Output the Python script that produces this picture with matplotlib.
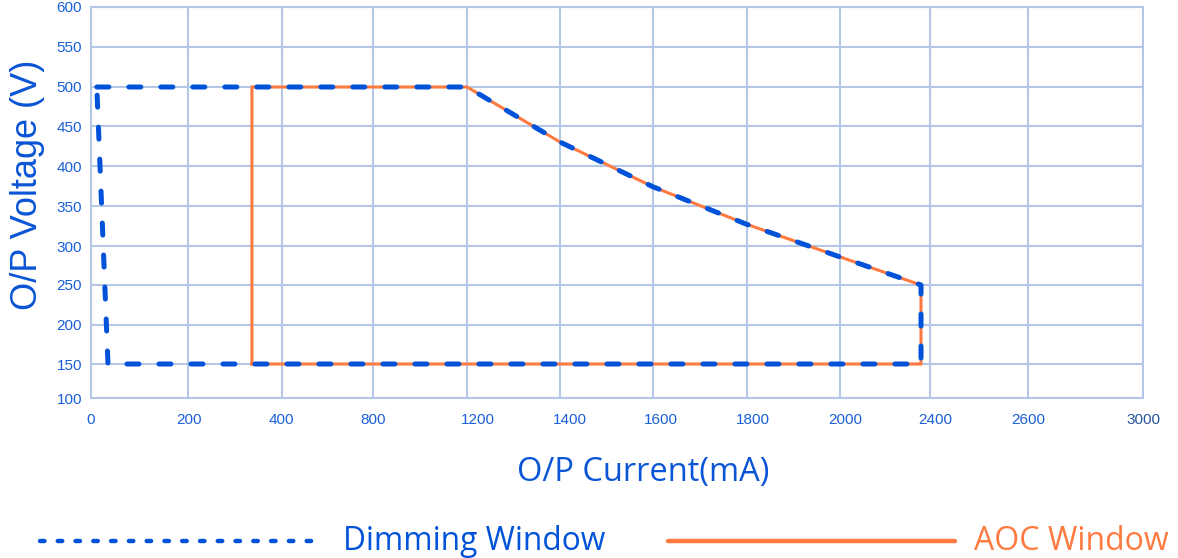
import numpy as np
import matplotlib
matplotlib.use("Agg")
import matplotlib.pyplot as plt
from matplotlib.lines import Line2D
from matplotlib.transforms import ScaledTranslation

# Valores (corrente em mA, tensão em V)
rotulos_x = [0, 200, 400, 800, 1200, 1400, 1600, 1800, 2000, 2400, 2600, 3000]
ticks_y = [100, 150, 200, 250, 300, 350, 400, 450, 500, 550, 600]

dimming_corrente = [12, 1200, 1400, 1600, 1800, 2000, 2360, 2360, 35, 12]
dimming_tensao = [500, 500, 430, 374, 327, 286, 250, 150, 150, 500]

aoc_corrente = [336, 336, 1200, 1400, 1600, 1800, 2000, 2360, 2360, 336]
aoc_tensao = [150, 500, 500, 430, 374, 327, 286, 250, 150, 150]

# Posição das linhas de grade (as escalas originais não são lineares)
pos_x = np.array([91, 188, 282, 373, 467, 560, 653, 747, 840, 930, 1028, 1143], dtype=float)
pos_x = (pos_x - 91) / (1143 - 91)
pos_y = np.array([398, 364, 325, 285, 246, 206, 166, 126, 87, 47, 7], dtype=float)
pos_y = (398 - pos_y) / (398 - 7)
desloc_rotulo = [0, 1, -1, 0, 11, 10, 8, 6, 5, 5, 0, 0]

def ida_x(x):
    return np.interp(x, rotulos_x, pos_x)

def volta_x(p):
    return np.interp(p, pos_x, rotulos_x)

def ida_y(y):
    return np.interp(y, ticks_y, pos_y)

def volta_y(p):
    return np.interp(p, pos_y, ticks_y)

cor_grade = "#b4c7e7"
cor_azul = "#0052d9"
cor_laranja = "#ff7a3f"
cor_texto = "#1a5fd8"

fig = plt.figure(figsize=(11.78, 5.58), dpi=100)
ax = fig.add_axes([91 / 1178, 1 - 398 / 558, (1143 - 91) / 1178, (398 - 7) / 558])

ax.set_xscale("function", functions=(ida_x, volta_x))
ax.set_yscale("function", functions=(ida_y, volta_y))
ax.set_xlim(0, 3000)
ax.set_ylim(100, 600)
ax.set_xticks(rotulos_x)
ax.set_xticklabels([str(v) for v in rotulos_x])
ax.set_yticks(ticks_y)
ax.set_yticklabels([str(v) for v in ticks_y])
ax.minorticks_off()
ax.grid(True, color=cor_grade, lw=1.5)
ax.set_axisbelow(True)
for s in ax.spines.values():
    s.set_color(cor_grade)
    s.set_linewidth(1.5)

ax.tick_params(axis="both", length=0, labelsize=11, labelcolor=cor_texto)
ax.tick_params(axis="x", pad=11)
ax.tick_params(axis="y", pad=6.5)
for lab in ax.get_xticklabels() + ax.get_yticklabels():
    lab.set_family("Liberation Sans")
for lab, dx in zip(ax.get_xticklabels(), desloc_rotulo):
    lab.set_transform(lab.get_transform() + ScaledTranslation(dx / 100, 0, fig.dpi_scale_trans))
ax.get_xticklabels()[-1].set_color("#24529c")

# Curvas
ax.plot(aoc_corrente, aoc_tensao, color=cor_laranja, lw=2.2, solid_joinstyle="miter", zorder=3)
ax.plot(dimming_corrente, dimming_tensao, color=cor_azul, lw=3.6, dashes=(2.4, 4.0),
        dash_capstyle="round", dash_joinstyle="round", zorder=4)

# Títulos dos eixos
fig.text(28 / 1178, 1 - 185 / 558, "O/P Voltage (V)", rotation=90, ha="center", va="center",
         fontsize=26, color="#0a55d6", family="Liberation Sans")
fig.text(643 / 1178, 1 - 472 / 558, "O/P Current(mA)", ha="center", va="center",
         fontsize=23.5, color="#0a55d6", family="Open Sans")

# Legenda desenhada à mão
fig.add_artist(Line2D([40 / 1178, 320 / 1178], [1 - 541 / 558] * 2, transform=fig.transFigure,
                      color=cor_azul, lw=3.2, dashes=(1.0, 3.0), dash_capstyle="round"))
fig.text(343 / 1178, 1 - 550 / 558, "Dimming Window", ha="left", va="baseline",
         fontsize=22.8, color=cor_azul, family="Open Sans")
fig.add_artist(Line2D([668 / 1178, 955 / 1178], [1 - 541 / 558] * 2, transform=fig.transFigure,
                      color=cor_laranja, lw=3.2, solid_capstyle="round"))
fig.text(974 / 1178, 1 - 550 / 558, "AOC Window", ha="left", va="baseline",
         fontsize=23, color=cor_laranja, family="Open Sans")

fig.savefig("out.png", dpi=100)
